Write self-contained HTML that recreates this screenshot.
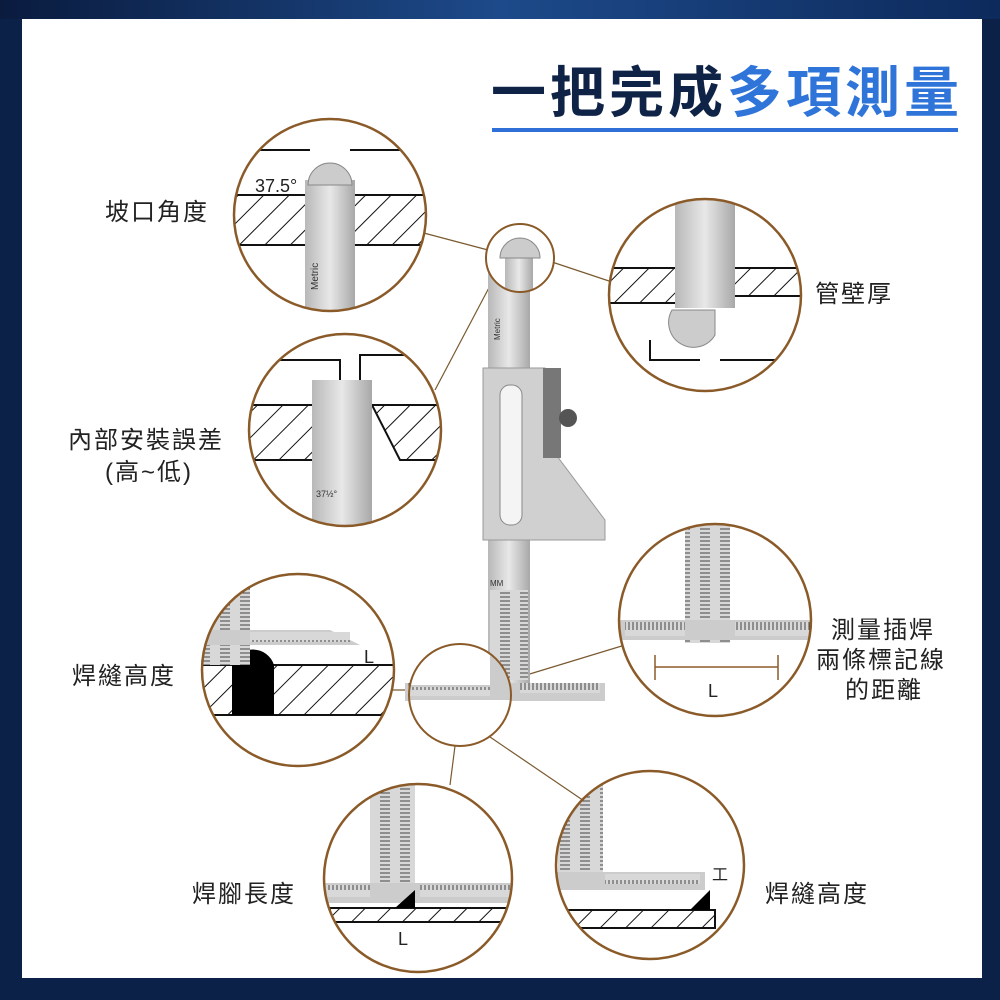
<!DOCTYPE html>
<html><head><meta charset="utf-8"><style>
body{margin:0;width:1000px;height:1000px;background:#0c2148;overflow:hidden}
svg{display:block}
text{font-family:"Liberation Sans","Noto Sans CJK TC",sans-serif}
</style></head><body>
<svg width="1000" height="1000" viewBox="0 0 1000 1000">
<defs>
<linearGradient id="tb" x1="0" x2="1"><stop offset="0" stop-color="#0a1b3e"/><stop offset="0.5" stop-color="#1d4a8a"/><stop offset="1" stop-color="#0d2a5c"/></linearGradient>
<pattern id="hatch" width="18" height="18" patternUnits="userSpaceOnUse" patternTransform="rotate(45)"><rect width="18" height="18" fill="#fff"/><line x1="0" y1="0" x2="0" y2="18" stroke="#111" stroke-width="2"/></pattern>
<linearGradient id="steel" x1="0" x2="1"><stop offset="0" stop-color="#b8b8b8"/><stop offset="0.5" stop-color="#e8e8e8"/><stop offset="1" stop-color="#a8a8a8"/></linearGradient>
<pattern id="tick" width="4" height="20" patternUnits="userSpaceOnUse"><rect width="4" height="20" fill="#d8d8d8"/><line x1="1" y1="0" x2="1" y2="10" stroke="#444" stroke-width="1"/></pattern>
<pattern id="tickh" width="20" height="4" patternUnits="userSpaceOnUse"><rect width="20" height="4" fill="#d8d8d8"/><line x1="0" y1="1" x2="10" y2="1" stroke="#444" stroke-width="1"/></pattern>
<clipPath id="c1"><circle cx="330" cy="215" r="96"/></clipPath>
<clipPath id="c2"><circle cx="345" cy="430" r="96"/></clipPath>
<clipPath id="c4"><circle cx="705" cy="295" r="96"/></clipPath>
<clipPath id="c5"><circle cx="298" cy="670" r="96"/></clipPath>
<clipPath id="c6"><circle cx="715" cy="620" r="96"/></clipPath>
<clipPath id="c8"><circle cx="418" cy="878" r="94"/></clipPath>
<clipPath id="c9"><circle cx="650" cy="865" r="94"/></clipPath>
<clipPath id="c3"><circle cx="520" cy="258" r="34"/></clipPath>
<clipPath id="c7"><circle cx="460" cy="695" r="51"/></clipPath>
</defs>
<rect width="1000" height="19" fill="url(#tb)"/>
<rect x="22" y="19" width="960" height="959" fill="#fff"/>
<text x="491" y="112" font-size="55" font-weight="bold" fill="#0f2347" letter-spacing="4">一把完成<tspan fill="#2f74d8">多項測量</tspan></text>
<rect x="492" y="128" width="466" height="4" fill="#2f6fd8"/>

<g stroke="#7a5a30" stroke-width="1.2" fill="none">
<line x1="420" y1="232" x2="488" y2="250"/><line x1="435" y1="390" x2="492" y2="282"/>
<line x1="552" y1="262" x2="612" y2="282"/>
<line x1="392" y1="690" x2="410" y2="690"/><line x1="510" y1="680" x2="625" y2="645"/>
<line x1="455" y1="746" x2="450" y2="785"/><line x1="490" y1="737" x2="590" y2="805"/>
</g>

<g>
<rect x="488" y="260" width="42" height="440" fill="url(#steel)"/>
<path d="M483 368 H545 V440 L605 520 V540 H483 Z" fill="#d0d0d0" stroke="#999"/>
<rect x="543" y="368" width="18" height="90" fill="#777"/>
<circle cx="568" cy="418" r="9" fill="#555"/>
<rect x="500" y="385" width="22" height="140" rx="10" fill="#f4f4f4" stroke="#888"/>
<rect x="490" y="590" width="38" height="90" fill="url(#tickh)"/>
<text x="490" y="586" font-size="8" fill="#333">MM</text>
<rect x="405" y="683" width="200" height="18" fill="#ccc"/>
<rect x="408" y="683" width="80" height="10" fill="url(#tick)"/>
<rect x="520" y="683" width="80" height="10" fill="url(#tick)"/>
<text x="500" y="340" font-size="8" fill="#333" transform="rotate(-90 500 340)">Metric</text>
</g>

<g clip-path="url(#c1)"><rect x="233" y="118" width="200" height="200" fill="#fff"/>
<polygon points="233,195 433,195 433,245 350,245 330,220 310,245 233,245" fill="url(#hatch)" stroke="#111" stroke-width="2"/>
<path d="M245 150 H310 M350 150 H420" stroke="#111" stroke-width="2"/>
<rect x="305" y="180" width="50" height="140" fill="url(#steel)"/>
<path d="M308 185 A22 22 0 0 1 352 185 Z" fill="#ccc" stroke="#888"/>
<text x="318" y="290" font-size="10" fill="#333" transform="rotate(-90 318 290)">Metric</text>
</g>
<text x="255" y="192" font-size="18" fill="#222">37.5°</text>
<circle cx="330" cy="215" r="96" fill="none" stroke="#8a5a28" stroke-width="2.5"/>

<g clip-path="url(#c2)"><rect x="248" y="333" width="200" height="200" fill="#fff"/>
<polygon points="248,405 445,405 445,460 400,460 372,405 340,405 320,460 248,460" fill="url(#hatch)" stroke="#111" stroke-width="2"/>
<path d="M258 360 H340 V405 M360 405 V355 H435" stroke="#111" stroke-width="2" fill="none"/>
<rect x="312" y="380" width="60" height="150" fill="url(#steel)"/>
<text x="316" y="497" font-size="9" fill="#333">37½°</text>
</g>
<circle cx="345" cy="430" r="96" fill="none" stroke="#8a5a28" stroke-width="2.5"/>

<g clip-path="url(#c3)"><rect x="486" y="224" width="70" height="70" fill="#fff"/>
<rect x="505" y="250" width="28" height="50" fill="url(#steel)"/>
<path d="M500 258 A20 20 0 0 1 540 258 Z" fill="#ccc" stroke="#888"/></g>
<circle cx="520" cy="258" r="34" fill="none" stroke="#8a5a28" stroke-width="2"/>

<g clip-path="url(#c4)"><rect x="608" y="198" width="200" height="200" fill="#fff"/>
<rect x="608" y="268" width="92" height="35" fill="url(#hatch)" stroke="#111" stroke-width="2"/>
<rect x="715" y="268" width="90" height="28" fill="url(#hatch)" stroke="#111" stroke-width="2"/>
<rect x="675" y="198" width="60" height="110" fill="url(#steel)"/>
<path d="M672 310 H715 V335 A22 22 0 0 1 672 310 Z" fill="#ccc" stroke="#888"/>
<path d="M650 340 V360 H700 M720 360 H790" stroke="#111" stroke-width="2" fill="none"/>
</g>
<circle cx="705" cy="295" r="96" fill="none" stroke="#8a5a28" stroke-width="2.5"/>

<g clip-path="url(#c5)"><rect x="200" y="573" width="200" height="200" fill="#fff"/>
<rect x="200" y="665" width="200" height="50" fill="url(#hatch)" stroke="#111" stroke-width="2"/>
<path d="M232 665 A22 22 0 0 1 274 665 V715 H232 Z" fill="#000"/>
<rect x="200" y="580" width="50" height="85" fill="url(#tickh)"/>
<path d="M200 630 H330 L360 645 H200 Z" fill="#ccc"/>
<rect x="250" y="632" width="100" height="10" fill="url(#tick)"/>
</g>
<text x="364" y="663" font-size="18" fill="#222">L</text>
<circle cx="298" cy="670" r="96" fill="none" stroke="#8a5a28" stroke-width="2.5"/>

<g clip-path="url(#c6)"><rect x="618" y="523" width="200" height="200" fill="#fff"/>
<rect x="685" y="523" width="45" height="120" fill="url(#tickh)"/>
<path d="M618 620 H820 V640 H618 Z" fill="#ccc"/>
<rect x="625" y="622" width="60" height="14" fill="url(#tick)"/>
<rect x="735" y="622" width="80" height="14" fill="url(#tick)"/>
<path d="M655 655 V680 M778 655 V680 M655 667 H778" stroke="#8a5a28" stroke-width="1.5"/>
</g>
<text x="708" y="697" font-size="18" fill="#222">L</text>
<circle cx="715" cy="620" r="96" fill="none" stroke="#8a5a28" stroke-width="2.5"/>

<g clip-path="url(#c7)"><rect x="409" y="644" width="102" height="102" fill="#fff"/>
<rect x="405" y="685" width="110" height="15" fill="#ccc"/>
<rect x="405" y="687" width="85" height="9" fill="url(#tick)"/>
<rect x="490" y="644" width="30" height="45" fill="#ccc"/></g>
<circle cx="460" cy="695" r="51" fill="none" stroke="#8a5a28" stroke-width="2"/>

<g clip-path="url(#c8)"><rect x="323" y="783" width="200" height="200" fill="#fff"/>
<rect x="370" y="783" width="45" height="100" fill="url(#tickh)"/>
<rect x="323" y="883" width="190" height="20" fill="#ccc"/>
<rect x="325" y="885" width="45" height="12" fill="url(#tick)"/>
<rect x="420" y="885" width="90" height="12" fill="url(#tick)"/>
<rect x="330" y="908" width="180" height="14" fill="url(#hatch)" stroke="#111" stroke-width="2"/>
<polygon points="395,908 415,908 415,890" fill="#000"/>
</g>
<text x="398" y="945" font-size="18" fill="#222">L</text>
<circle cx="418" cy="878" r="94" fill="none" stroke="#8a5a28" stroke-width="2.5"/>

<g clip-path="url(#c9)"><rect x="555" y="770" width="200" height="200" fill="#fff"/>
<rect x="558" y="780" width="45" height="110" fill="url(#tickh)"/>
<rect x="555" y="872" width="150" height="18" fill="#ccc"/>
<rect x="605" y="874" width="95" height="10" fill="url(#tick)"/>
<rect x="565" y="910" width="150" height="18" fill="url(#hatch)" stroke="#111" stroke-width="2"/>
<polygon points="690,910 710,910 710,890" fill="#000"/>
</g>
<text x="712" y="880" font-size="16" fill="#222">工</text>
<circle cx="650" cy="865" r="94" fill="none" stroke="#8a5a28" stroke-width="2.5"/>

<g font-size="24" fill="#222" letter-spacing="2">
<text x="105" y="220">坡口角度</text>
<text x="815" y="302">管壁厚</text>
<text x="68" y="448">內部安裝誤差</text>
<text x="105" y="480">(高~低)</text>
<text x="72" y="684">焊縫高度</text>
<text x="831" y="638">測量插焊</text>
<text x="816" y="668">兩條標記線</text>
<text x="845" y="698">的距離</text>
<text x="192" y="902">焊腳長度</text>
<text x="765" y="902">焊縫高度</text>
</g>
</svg>
</body></html>
